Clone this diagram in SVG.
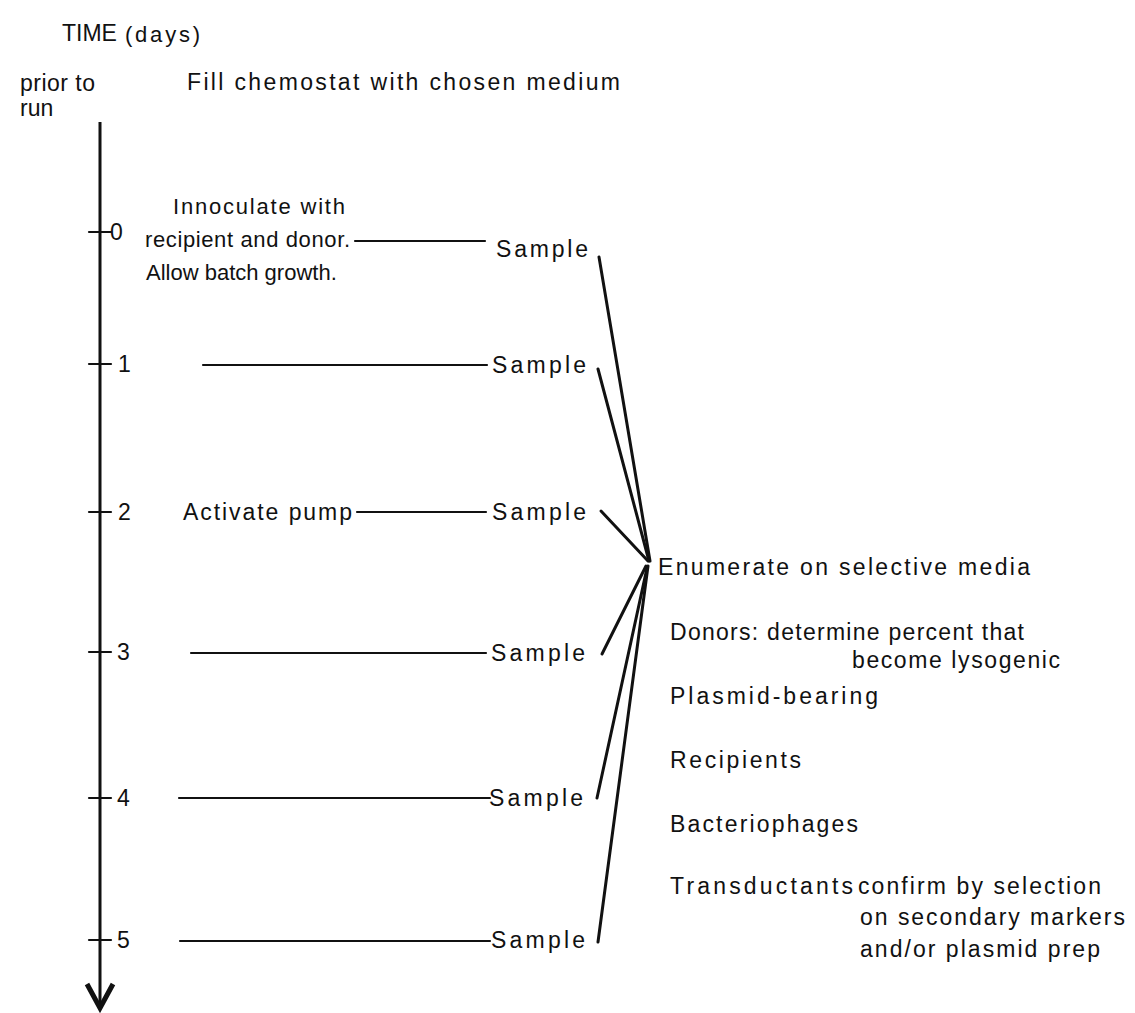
<svg xmlns="http://www.w3.org/2000/svg" width="1135" height="1013" viewBox="0 0 1135 1013">
<style>
text{font-family:"Liberation Sans",Arial,sans-serif;font-size:23px;fill:#111}
.s22{font-size:22px}
.ln{stroke:#111;stroke-width:2.2;fill:none;stroke-linecap:round}
.fan{stroke:#111;stroke-width:3;fill:none;stroke-linecap:round}
.ax{stroke:#111;stroke-width:3;fill:none}
</style>
<rect width="1135" height="1013" fill="#fff"/>
<g id="title">
<text x="62" y="41" font-size="19">TIME</text>
<text x="125" y="42" class="s22" textLength="75">(days)</text>
</g>
<g id="prior">
<text x="20" y="91" font-size="21" textLength="75">prior to</text>
<text x="20" y="116" font-size="21">run</text>
</g>
<g id="fill">
<text x="187" y="90" textLength="433">Fill chemostat with chosen medium</text>
</g>
<g id="axis">
<line class="ax" x1="100" y1="122" x2="100" y2="1004"/>
<polyline points="87,984 100,1008 113,984" fill="none" stroke="#111" stroke-width="5" stroke-linejoin="miter"/>
<line class="ln" x1="89" y1="232" x2="111" y2="232"/>
<line class="ln" x1="89" y1="364" x2="111" y2="364"/>
<line class="ln" x1="89" y1="512" x2="111" y2="512"/>
<line class="ln" x1="89" y1="652" x2="111" y2="652"/>
<line class="ln" x1="89" y1="798" x2="111" y2="798"/>
<line class="ln" x1="89" y1="940" x2="111" y2="940"/>
<text x="110" y="240" font-size="21">0</text>
<text x="118" y="372" font-size="21">1</text>
<text x="118" y="520" font-size="21">2</text>
<text x="117" y="660" font-size="21">3</text>
<text x="117" y="806" font-size="21">4</text>
<text x="117" y="948" font-size="21">5</text>
</g>
<g id="innoculate" class="s22">
<text x="173" y="214" class="s22" textLength="172">Innoculate with</text>
<text x="145" y="247" class="s22" textLength="205">recipient and donor.</text>
<text x="146" y="280" class="s22">Allow batch growth.</text>
</g>
<g id="activate">
<text x="183" y="520" textLength="169">Activate pump</text>
</g>
<g id="sample0"><text x="496" y="257" textLength="92">Sample</text></g>
<g id="sample1"><text x="492" y="373" textLength="94">Sample</text></g>
<g id="sample2"><text x="492" y="520" textLength="94">Sample</text></g>
<g id="sample3"><text x="491" y="661" textLength="94">Sample</text></g>
<g id="sample4"><text x="489" y="806" textLength="94">Sample</text></g>
<g id="sample5"><text x="491" y="948" textLength="94">Sample</text></g>
<g id="enumerate">
<text x="658" y="575" textLength="372">Enumerate on selective media</text>
<text x="670" y="640" textLength="354">Donors: determine percent that</text>
<text x="852" y="668" textLength="208">become lysogenic</text>
<text x="670" y="704" textLength="208">Plasmid-bearing</text>
<text x="670" y="768" textLength="131">Recipients</text>
<text x="670" y="832" textLength="188">Bacteriophages</text>
<text x="670" y="894" textLength="183">Transductants</text>
<text x="858" y="894" textLength="243">confirm by selection</text>
<text x="860" y="925" textLength="265">on secondary markers</text>
<text x="860" y="957" textLength="240">and/or plasmid prep</text>
</g>
<g id="connectors">
<line class="ln" x1="355" y1="241" x2="485" y2="241"/>
<line class="ln" x1="203" y1="365" x2="487" y2="365"/>
<line class="ln" x1="357" y1="512" x2="486" y2="512"/>
<line class="ln" x1="191" y1="653" x2="486" y2="653"/>
<line class="ln" x1="179" y1="798" x2="490" y2="798"/>
<line class="ln" x1="180" y1="941" x2="490" y2="941"/>
<line class="fan" x1="599" y1="257" x2="650" y2="561"/>
<line class="fan" x1="598" y1="369" x2="649" y2="561"/>
<line class="fan" x1="601" y1="511" x2="648" y2="561"/>
<line class="fan" x1="602" y1="654" x2="646" y2="566"/>
<line class="fan" x1="597" y1="798" x2="647" y2="568"/>
<line class="fan" x1="598" y1="942" x2="648" y2="566"/>
</g>
</svg>
